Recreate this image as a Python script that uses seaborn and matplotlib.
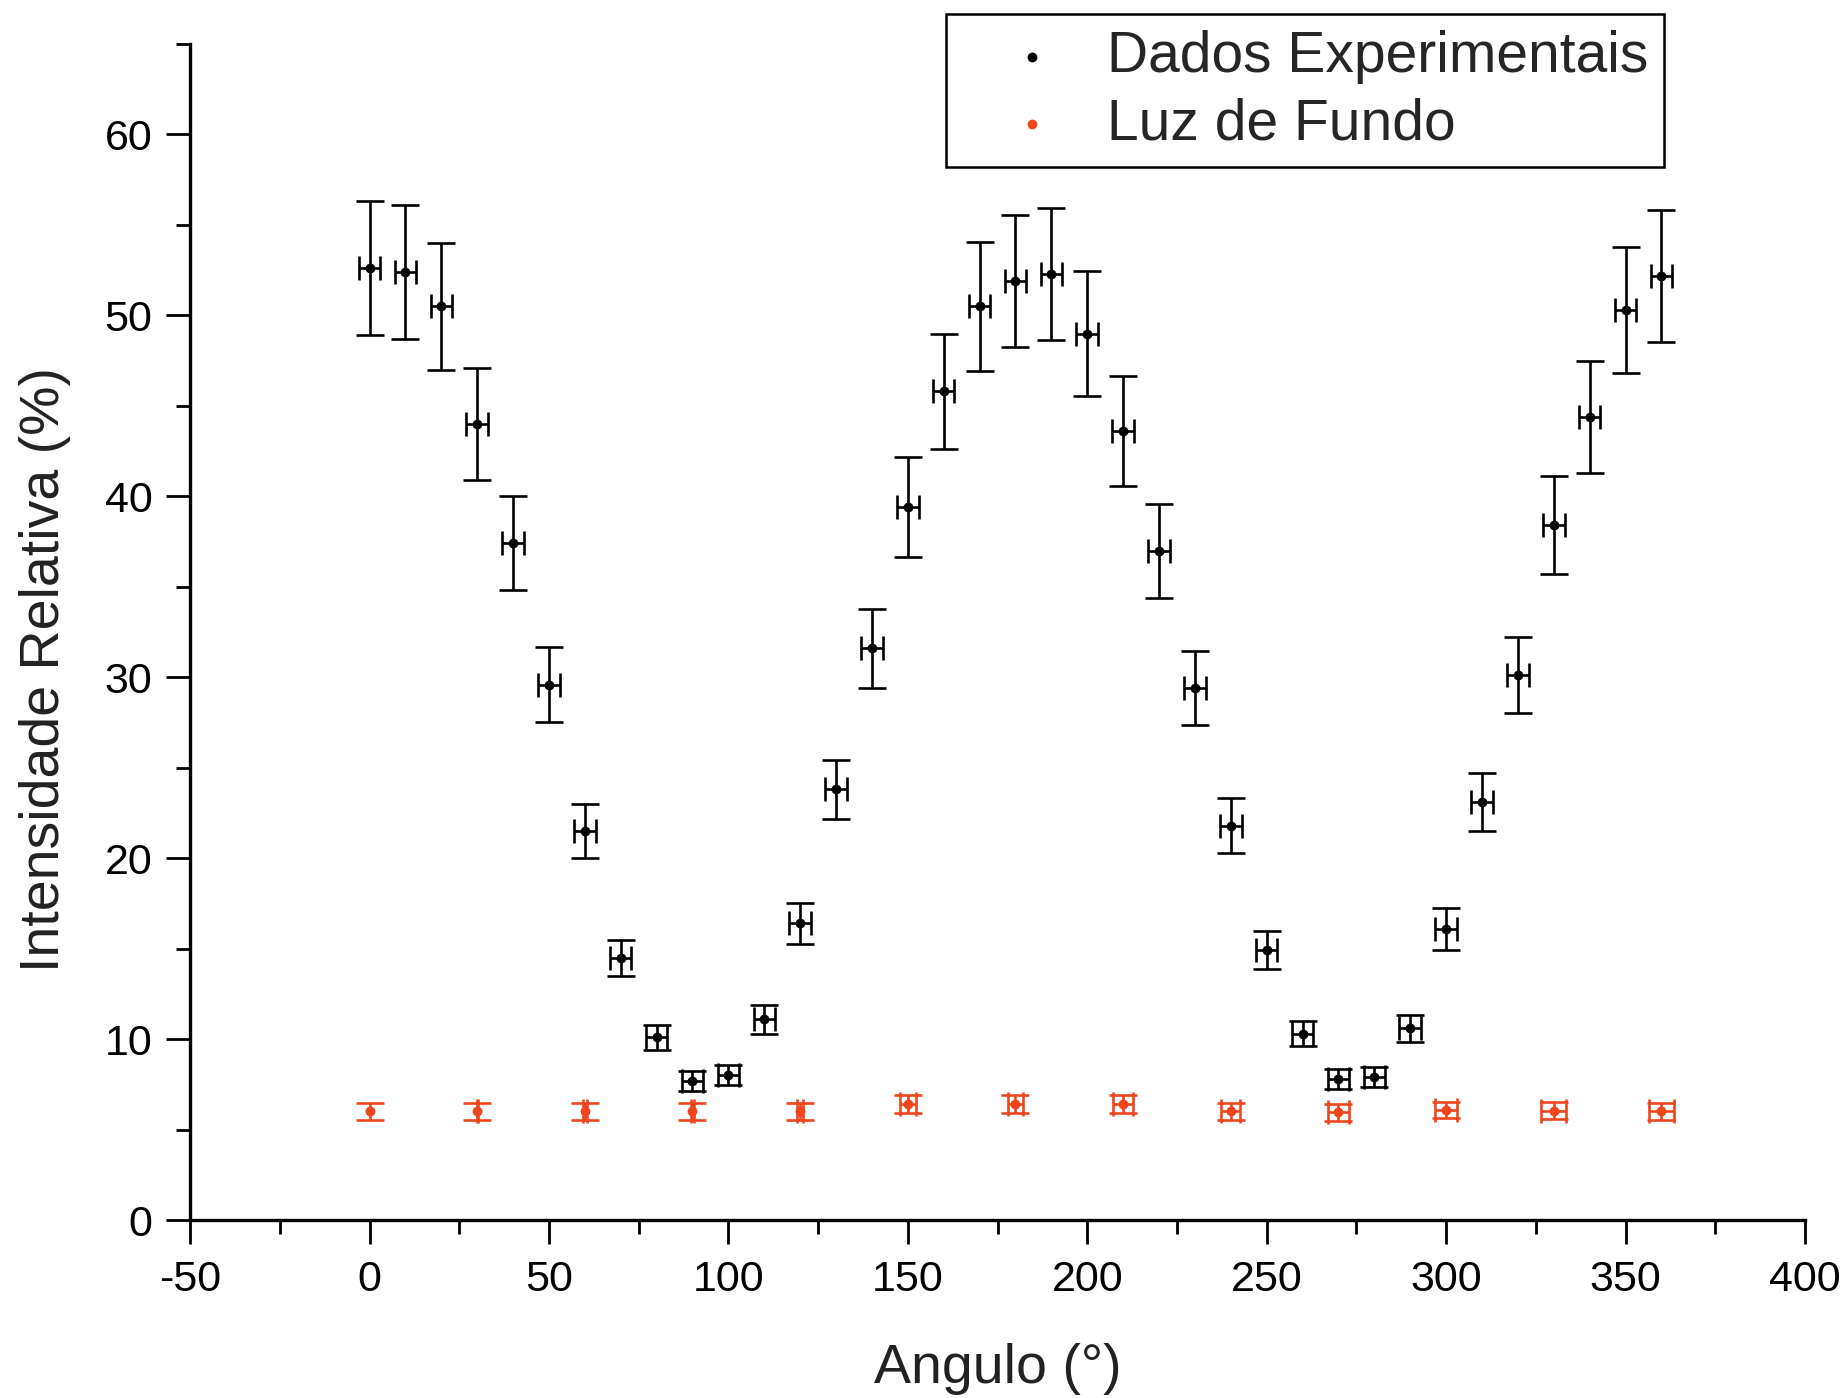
import numpy as np
import pandas as pd
import matplotlib
matplotlib.use("Agg")
import matplotlib.pyplot as plt
from matplotlib.ticker import MultipleLocator
import seaborn as sns

# ---------------- data ----------------
angles_exp = [0, 10, 20, 30, 40, 50, 60, 70, 80, 90, 100, 110, 120, 130, 140, 150, 160, 170, 180,
              190, 200, 210, 220, 230, 240, 250, 260, 270, 280, 290, 300, 310, 320, 330, 340, 350, 360]
intens_exp = [52.6, 52.4, 50.5, 44.0, 37.4, 29.6, 21.5, 14.5, 10.1, 7.7, 8.0, 11.1, 16.4, 23.8, 31.6,
              39.4, 45.8, 50.5, 51.9, 52.3, 49.0, 43.6, 37.0, 29.4, 21.8, 14.9, 10.3, 7.8, 7.9, 10.6,
              16.1, 23.1, 30.1, 38.4, 44.4, 50.3, 52.2]
yerr_exp = [3.7, 3.7, 3.5, 3.1, 2.6, 2.1, 1.5, 1.0, 0.7, 0.55, 0.55, 0.8, 1.15, 1.65, 2.2, 2.75, 3.2,
            3.55, 3.65, 3.65, 3.45, 3.05, 2.6, 2.05, 1.5, 1.05, 0.7, 0.55, 0.55, 0.75, 1.15, 1.6, 2.1,
            2.7, 3.1, 3.5, 3.65]
xerr_exp = [3.0] * 37

angles_bg = [0, 30, 60, 90, 120, 150, 180, 210, 240, 270, 300, 330, 360]
intens_bg = [6.0, 6.0, 6.0, 6.0, 6.0, 6.4, 6.4, 6.4, 6.0, 5.95, 6.1, 6.05, 6.0]
yerr_bg = [0.45, 0.45, 0.45, 0.45, 0.45, 0.5, 0.5, 0.5, 0.45, 0.45, 0.45, 0.45, 0.45]
xerr_bg = [np.nan, 0.1, 0.55, 0.55, 0.9, 2.3, 2.2, 2.7, 2.65, 3.0, 3.0, 3.5, 3.5]

label_exp = "Dados Experimentais"
label_bg = "Luz de Fundo"
xlabel = "Angulo (°)"
ylabel = "Intensidade Relativa (%)"

df_exp = pd.DataFrame({"x": angles_exp, "y": intens_exp})
df_bg = pd.DataFrame({"x": angles_bg, "y": intens_bg})

# ---------------- style ----------------
sns.set_theme(style="ticks")
plt.rcParams["font.family"] = ["Liberation Sans", "DejaVu Sans"]
plt.rcParams["axes.unicode_minus"] = False

BLACK = "#000000"
RED = "#F0461E"

fig = plt.figure(figsize=(18.49, 13.98), dpi=100)
ax = fig.add_axes([0.1028, 0.1273, 0.8734, 0.8412])

lw = 1.9
# error bars
for xs, ys, xe, ye, c in [(angles_exp, intens_exp, xerr_exp, yerr_exp, BLACK),
                          (angles_bg, intens_bg, xerr_bg, yerr_bg, RED)]:
    ax.errorbar(xs, ys, yerr=ye, fmt="none", ecolor=c, elinewidth=lw,
                capsize=10, capthick=lw, zorder=2)
    ax.errorbar(xs, ys, xerr=xe, fmt="none", ecolor=c, elinewidth=lw,
                capsize=8.5, capthick=lw, zorder=2)

sns.scatterplot(data=df_exp, x="x", y="y", ax=ax, color=BLACK, s=50, linewidth=0,
                label=label_exp, zorder=3)
sns.scatterplot(data=df_bg, x="x", y="y", ax=ax, color=RED, s=50, linewidth=0,
                label=label_bg, zorder=3)

ax.set_xlim(-50, 400)
ax.set_ylim(0, 65)
ax.xaxis.set_major_locator(MultipleLocator(50))
ax.xaxis.set_minor_locator(MultipleLocator(25))
ax.yaxis.set_minor_locator(MultipleLocator(5))
ax.set_yticks([0, 10, 20, 30, 40, 50, 60])

for side in ["top", "right"]:
    ax.spines[side].set_visible(False)
for side in ["left", "bottom"]:
    ax.spines[side].set_linewidth(2.4)
    ax.spines[side].set_color("black")

ax.tick_params(axis="both", which="major", direction="out", length=17, width=2,
               labelsize=31, colors="black", pad=10)
ax.tick_params(axis="both", which="minor", direction="out", length=10, width=2, colors="black")
ax.tick_params(axis="x", which="major", pad=12)

ax.set_xlabel(xlabel, fontsize=40, labelpad=31, color="#222222")
ax.set_ylabel(ylabel, fontsize=40, color="#222222")
ax.yaxis.set_label_coords(-0.074, 0.468)
ax.grid(False)

leg = ax.legend(loc="upper left", bbox_to_anchor=(0.468, 1.0255), fontsize=41,
                frameon=True, fancybox=False, edgecolor="black", framealpha=1,
                borderpad=0.28, borderaxespad=0, handlelength=2.45, handletextpad=0.1,
                labelspacing=0.23, scatterpoints=1, markerscale=1.0)
leg.get_frame().set_linewidth(1.8)

fig.savefig("out.png", dpi=100)
